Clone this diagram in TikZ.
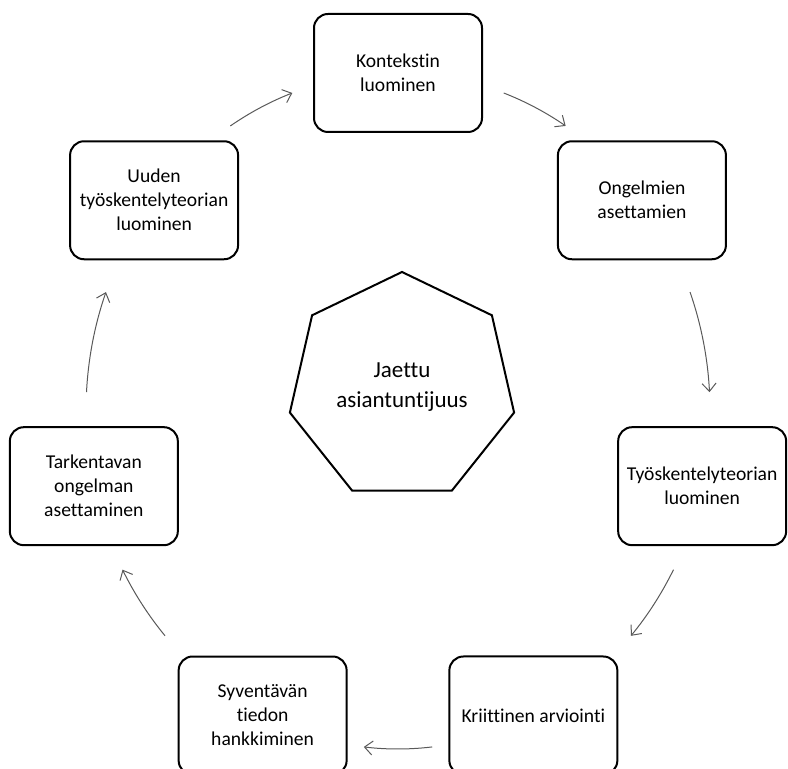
\documentclass[tikz,border=0pt]{standalone}
\usepackage{fontspec}
\setmainfont{Carlito}[Ligatures=NoCommon]
\usetikzlibrary{calc,shapes.geometric,arrows.meta}

\begin{document}
\begin{tikzpicture}[x=0.5pt,y=0.5pt,
    stage/.style={draw,line width=1pt,rounded corners=7pt,minimum width=84pt,minimum height=59pt,align=center,font=\fontsize{9.8}{12}\selectfont,inner sep=1pt},
    hub/.style={draw,line width=1pt,regular polygon,regular polygon sides=7,minimum size=115pt,align=center,font=\fontsize{11.5}{15}\selectfont},
    cyc/.style={draw=black!65,line width=0.5pt,-{Straight Barb[length=4pt,width=7pt]}}]
    \useasboundingbox (0,0) rectangle (788,769);
    \coordinate (C) at (398,358);
    % stages round the cycle
    \foreach \k/\nm/\txt in {0/kont/{Kontekstin\\luominen}, 1/ong/{Ongelmien\\asettamien}, 2/teor/{Työskentelyteorian\\luominen}, 3/arv/{Kriittinen arviointi}, 4/tied/{Syventävän\\tiedon\\hankkiminen}, 5/tark/{Tarkentavan\\ongelman\\asettaminen}, 6/uusi/{Uuden\\työskentelyteorian\\luominen}}
    {
        \node[stage] (\nm) at ($(C)+(90-360/7*\k:312 and 338)$) {\txt};
    }
    \node[hub] (jaettu) at (402,382) {Jaettu\\asiantuntijuus};
    % arrows between the stages
    \foreach \s/\e [count=\i] in {122.5/109.8, 70.2/57.5, 20.6/3.2, -28/-41.7, -83.7/-96.3, 221.7/208, 176.8/159.4}
    {
        \coordinate (a\i) at ($(C)+(\s:312 and 338)$);
        \draw[cyc] (a\i) arc[start angle=\s, end angle=\e, x radius=312, y radius=338];
    }
\end{tikzpicture}
\end{document}
